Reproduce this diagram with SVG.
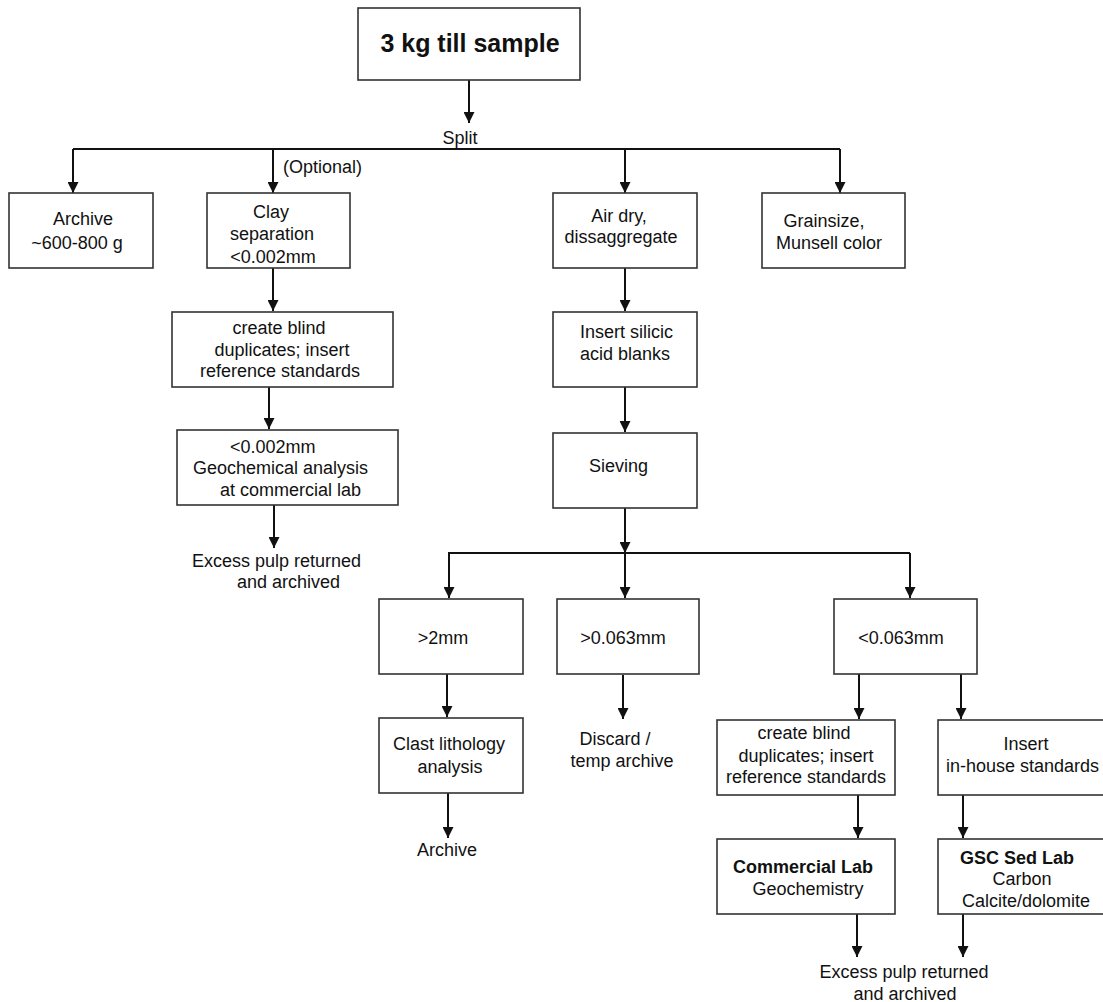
<svg xmlns="http://www.w3.org/2000/svg" width="1103" height="1002" viewBox="0 0 1103 1002">
<style>
.box{fill:#fff;stroke:#333;stroke-width:1.6}
.t{font-family:"Liberation Sans",Arial,sans-serif;font-size:18px;fill:#111}
.c{text-anchor:middle}
.b{font-weight:bold}
.ln{stroke:#111;stroke-width:2;fill:none}
.ar{stroke:#111;stroke-width:2;fill:none;marker-end:url(#ah)}
</style>
<defs>
<marker id="ah" markerUnits="userSpaceOnUse" markerWidth="11" markerHeight="11" refX="10" refY="5" orient="auto" viewBox="0 0 10 10">
<path d="M0,0 L10,5 L0,10 z" fill="#111"/>
</marker>
</defs>
<rect width="1103" height="1002" fill="#fff"/>
<g id="connectors">
<line class="ar" x1="469" y1="80" x2="469" y2="123"/>
<line class="ln" x1="73" y1="149" x2="840" y2="149"/>
<line class="ar" x1="73" y1="149" x2="73" y2="193"/>
<line class="ar" x1="273" y1="149" x2="273" y2="193"/>
<line class="ar" x1="625" y1="149" x2="625" y2="193"/>
<line class="ar" x1="840" y1="149" x2="840" y2="193"/>
<line class="ar" x1="273" y1="268" x2="273" y2="311"/>
<line class="ar" x1="269" y1="387" x2="269" y2="429"/>
<line class="ar" x1="274" y1="505" x2="274" y2="548"/>
<line class="ar" x1="625" y1="268" x2="625" y2="311"/>
<line class="ar" x1="625" y1="387" x2="625" y2="432"/>
<line class="ar" x1="625" y1="508" x2="625" y2="553"/>
<line class="ln" x1="448" y1="553" x2="910" y2="553"/>
<line class="ar" x1="449" y1="553" x2="449" y2="598"/>
<line class="ar" x1="625" y1="553" x2="625" y2="598"/>
<line class="ar" x1="910" y1="553" x2="910" y2="598"/>
<line class="ar" x1="447" y1="674" x2="447" y2="717"/>
<line class="ar" x1="623" y1="675" x2="623" y2="719"/>
<line class="ar" x1="859" y1="674" x2="859" y2="719"/>
<line class="ar" x1="961" y1="674" x2="961" y2="719"/>
<line class="ar" x1="448" y1="793" x2="448" y2="838"/>
<line class="ar" x1="858" y1="795" x2="858" y2="838"/>
<line class="ar" x1="963" y1="795" x2="963" y2="838"/>
<line class="ar" x1="857" y1="914" x2="857" y2="957"/>
<line class="ar" x1="963" y1="914" x2="963" y2="957"/>
</g>
<g id="n-top">
<rect class="box" x="358" y="8" width="222" height="72"/>
<text class="t c b" x="470" y="52" style="font-size:25px">3 kg till sample</text>
</g>
<g id="l-split"><text class="t c" x="460" y="144">Split</text></g>
<g id="l-optional"><text class="t" x="283" y="173">(Optional)</text></g>
<g id="n-archive">
<rect class="box" x="9" y="193" width="144" height="75"/>
<text class="t c" x="83" y="225">Archive</text>
<text class="t c" x="77" y="249">~600-800 g</text>
</g>
<g id="n-clay">
<rect class="box" x="207" y="193" width="143" height="75"/>
<text class="t c" x="271" y="218">Clay</text>
<text class="t c" x="272" y="240">separation</text>
<text class="t c" x="273" y="263">&lt;0.002mm</text>
</g>
<g id="n-airdry">
<rect class="box" x="553" y="193" width="144" height="75"/>
<text class="t c" x="619" y="222">Air dry,</text>
<text class="t c" x="621" y="243">dissaggregate</text>
</g>
<g id="n-grainsize">
<rect class="box" x="762" y="193" width="143" height="75"/>
<text class="t c" x="824" y="227">Grainsize,</text>
<text class="t c" x="829" y="249">Munsell color</text>
</g>
<g id="n-blind1">
<rect class="box" x="172" y="312" width="221" height="75"/>
<text class="t c" x="279" y="334">create blind</text>
<text class="t c" x="282" y="356">duplicates; insert</text>
<text class="t c" x="280" y="377">reference standards</text>
</g>
<g id="n-geochem1">
<rect class="box" x="177" y="430" width="221" height="75"/>
<text class="t" x="230" y="453">&lt;0.002mm</text>
<text class="t" x="193" y="474">Geochemical analysis</text>
<text class="t" x="220" y="496">at commercial lab</text>
</g>
<g id="l-excess1">
<text class="t" x="192" y="567">Excess pulp returned</text>
<text class="t" x="237" y="588">and archived</text>
</g>
<g id="n-silicic">
<rect class="box" x="553" y="312" width="144" height="75"/>
<text class="t" x="580" y="338">Insert silicic</text>
<text class="t" x="580" y="360">acid blanks</text>
</g>
<g id="n-sieving">
<rect class="box" x="553" y="433" width="144" height="75"/>
<text class="t" x="589" y="472">Sieving</text>
</g>
<g id="n-gt2">
<rect class="box" x="379" y="599" width="144" height="75"/>
<text class="t c" x="443" y="644">&gt;2mm</text>
</g>
<g id="n-gt063">
<rect class="box" x="557" y="599" width="142" height="75"/>
<text class="t c" x="623" y="644">&gt;0.063mm</text>
</g>
<g id="n-lt063">
<rect class="box" x="834" y="599" width="143" height="75"/>
<text class="t c" x="901" y="644">&lt;0.063mm</text>
</g>
<g id="n-clast">
<rect class="box" x="379" y="718" width="144" height="75"/>
<text class="t c" x="449" y="750">Clast lithology</text>
<text class="t c" x="450" y="773">analysis</text>
</g>
<g id="l-discard">
<text class="t c" x="615" y="745">Discard /</text>
<text class="t c" x="622" y="767">temp archive</text>
</g>
<g id="n-blind2">
<rect class="box" x="717" y="720" width="178" height="75"/>
<text class="t c" x="804" y="739">create blind</text>
<text class="t c" x="806" y="762">duplicates; insert</text>
<text class="t c" x="806" y="783">reference standards</text>
</g>
<g id="n-inhouse">
<rect class="box" x="938" y="720" width="172" height="75"/>
<text class="t c" x="1026" y="750">Insert</text>
<text class="t" x="946" y="772">in-house standards</text>
</g>
<g id="l-archive2"><text class="t c" x="447" y="856">Archive</text></g>
<g id="n-commercial">
<rect class="box" x="717" y="839" width="178" height="75"/>
<text class="t c b" x="803" y="873">Commercial Lab</text>
<text class="t c" x="808" y="895">Geochemistry</text>
</g>
<g id="n-gsc">
<rect class="box" x="938" y="839" width="172" height="75"/>
<text class="t c b" x="1017" y="864">GSC Sed Lab</text>
<text class="t c" x="1022" y="885">Carbon</text>
<text class="t c" x="1026" y="907">Calcite/dolomite</text>
</g>
<g id="l-excess2">
<text class="t c" x="904" y="978">Excess pulp returned</text>
<text class="t c" x="905" y="1000">and archived</text>
</g>
</svg>
